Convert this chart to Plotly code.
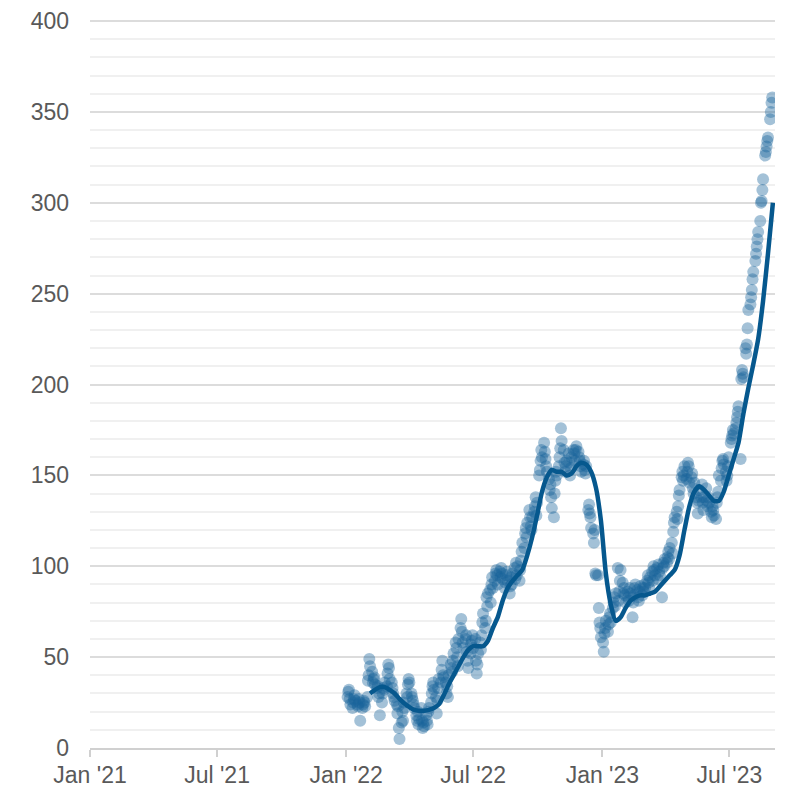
import pandas as pd
import numpy as np
import plotly.graph_objects as go

# Daily (business-day) observations, one list per month
months = ["2022-01", "2022-02", "2022-03", "2022-04", "2022-05", "2022-06",
          "2022-07", "2022-08", "2022-09", "2022-10", "2022-11", "2022-12",
          "2023-01", "2023-02", "2023-03", "2023-04", "2023-05", "2023-06",
          "2023-07", "2023-08"]

v_2022_01 = [28, 31, 32, 27, 24, 22, 25, 27, 29, 26, 24, 23, 27, 25, 15, 22, 24, 26, 25, 23, 28]
v_2022_02 = [37, 40, 49, 45, 42, 36, 38, 39, 35, 33, 34, 28, 30, 18, 25, 30, 33, 32, 36, 34]
v_2022_03 = [41, 46, 44, 38, 36, 33, 30, 28, 26, 24, 19, 23, 11, 5, 14, 20, 15, 25, 22, 30, 28, 35, 38]
v_2022_04 = [36, 30, 28, 26, 24, 22, 18, 15, 20, 13, 16, 22, 15, 11, 14, 12, 18, 15, 13, 20, 22]
v_2022_05 = [25, 30, 34, 36, 32, 28, 19, 26, 33, 38, 36, 43, 48, 40, 39, 36, 30, 34, 28, 40, 46, 44]
v_2022_06 = [42, 48, 52, 58, 55, 50, 45, 60, 66, 71, 64, 58, 55, 60, 62, 53, 48, 44, 52, 57, 59, 62]
v_2022_07 = [55, 60, 48, 41, 46, 52, 58, 54, 62, 69, 74, 66, 70, 83, 78, 85, 87, 80, 90, 94, 88]
v_2022_08 = [92, 96, 98, 95, 90, 97, 94, 99, 96, 93, 88, 91, 95, 97, 92, 85, 89, 94, 90, 96, 99, 93, 102]
v_2022_09 = [95, 100, 92, 98, 103, 108, 113, 110, 118, 121, 116, 124, 131, 127, 122, 120, 127, 130, 133, 138, 128, 135]
v_2022_10 = [150, 153, 158, 164, 160, 168, 163, 159, 155, 152, 148, 142, 145, 138, 132, 127, 140, 147, 152, 150, 155]
v_2022_11 = [160, 165, 176, 169, 164, 157, 152, 155, 158, 162, 157, 150, 154, 160, 164, 162, 158, 164, 166, 163, 160, 158]
v_2022_12 = [155, 152, 156, 158, 153, 151, 155, 131, 134, 129, 127, 121, 118, 113, 120, 96, 95, 95, 77, 69, 66, 61]
v_2023_01 = [58, 53, 63, 66, 70, 64, 68, 72, 74, 69, 77, 80, 83, 78, 85, 99, 81, 86, 92, 98, 91, 85]
v_2023_02 = [88, 84, 80, 86, 83, 81, 88, 85, 72, 80, 84, 88, 90, 87, 83, 81, 86, 89, 84, 88]
v_2023_03 = [86, 90, 88, 92, 95, 91, 88, 94, 97, 92, 100, 98, 95, 99, 93, 101, 97, 95, 83, 99, 102, 100, 104]
v_2023_04 = [102, 105, 108, 104, 110, 113, 107, 119, 124, 127, 130, 126, 133, 139, 142, 149, 152, 147, 150, 155]
v_2023_05 = [148, 152, 157, 155, 146, 149, 151, 143, 140, 146, 138, 135, 129, 136, 142, 138, 145, 135, 131, 138, 143, 136, 133]
v_2023_06 = [138, 135, 130, 127, 133, 131, 128, 126, 135, 138, 141, 150, 147, 154, 158, 159, 156, 152, 147, 150, 155, 160]
v_2023_07 = [168, 170, 172, 175, 173, 176, 179, 182, 185, 188, 159, 203, 208, 206, 204, 220, 217, 222, 231, 241, 244]
v_2023_08 = [248, 252, 258, 262, 268, 272, 276, 280, 284, 290, 300, 301, 307, 313, 326, 328, 331, 334, 336, 346, 350, 355, 358]

monthly_values = [v_2022_01, v_2022_02, v_2022_03, v_2022_04, v_2022_05, v_2022_06,
                  v_2022_07, v_2022_08, v_2022_09, v_2022_10, v_2022_11, v_2022_12,
                  v_2023_01, v_2023_02, v_2023_03, v_2023_04, v_2023_05, v_2023_06,
                  v_2023_07, v_2023_08]

# Smoothed trend (weekly readings, Fridays)
trend_start = "2022-02-04"
trend_values = [30, 32, 33.5, 33.5, 32, 30, 27, 24.5, 22.5, 21, 20.5, 20.5, 21, 22, 24, 29,
                35, 40, 45, 50, 54, 56, 56, 56, 59, 66, 72, 81, 88, 92, 95, 98, 106, 116,
                128, 141, 149, 153, 152, 152, 150, 151, 155, 157, 156, 152, 143, 125, 96,
                79, 70, 72, 77, 81, 83, 84, 84, 85, 86, 89, 92, 95, 98, 106, 120, 133, 141,
                144, 142, 139, 136, 136, 141, 150, 159, 168, 184, 198, 211, 225, 246, 272, 300]

# Axis ticks
x_tickvals = ["2021-01-01", "2021-07-01", "2022-01-01", "2022-07-01", "2023-01-01", "2023-07-01"]
x_ticktext = ["Jan '21", "Jul '21", "Jan '22", "Jul '22", "Jan '23", "Jul '23"]
y_tickvals = [0, 50, 100, 150, 200, 250, 300, 350, 400]

# Build point dates per month from business days
dates, values = [], []
for m, vals in zip(months, monthly_values):
    start = pd.Timestamp(m + "-01")
    bd = pd.bdate_range(start, start + pd.offsets.MonthEnd(0))
    idx = np.linspace(0, len(bd) - 1, len(vals)).round().astype(int)
    dates.extend(bd[idx])
    values.extend(vals)

trend_dates = pd.date_range(trend_start, periods=len(trend_values), freq="7D")

fig = go.Figure()
fig.add_trace(go.Scatter(
    x=dates, y=values, mode="markers",
    marker=dict(size=12, color="rgb(25,100,155)", opacity=0.4, line=dict(width=0)),
    hoverinfo="skip", showlegend=False,
))
fig.add_trace(go.Scatter(
    x=trend_dates, y=trend_values, mode="lines",
    line=dict(color="rgb(6,88,142)", width=4.5, shape="spline", smoothing=0.6),
    showlegend=False,
))

font_family = "Arial, Liberation Sans, sans-serif"
fig.update_layout(
    width=787, height=788,
    margin=dict(l=90, r=12, t=20, b=40, autoexpand=False),
    plot_bgcolor="white", paper_bgcolor="white",
    font=dict(family=font_family, size=23, color="#595959"),
    xaxis=dict(
        range=["2021-01-01", "2023-09-04"],
        tickvals=x_tickvals, ticktext=x_ticktext,
        showgrid=False, zeroline=False, automargin=False,
        showline=True, linecolor="#d0d0d0", linewidth=2,
        ticks="outside", ticklen=7, tickwidth=1.5, tickcolor="#d0d0d0",
        ticklabelstandoff=-2,
        tickfont=dict(size=23, color="#595959"),
    ),
    yaxis=dict(
        range=[0, 400.6], tickvals=y_tickvals, automargin=False,
        showgrid=True, gridcolor="#dcdcdc", gridwidth=1.5,
        zeroline=False, showline=False, ticks="",
        ticklabelstandoff=20,
        tickfont=dict(size=23, color="#595959"),
        minor=dict(dtick=10, showgrid=True, gridcolor="#f0f0f0", gridwidth=1.5),
    ),
)

fig.write_html(
    "out.html",
    config={"displayModeBar": False},
    post_script="document.body.style.margin='0';document.body.style.overflow='hidden';",
)
